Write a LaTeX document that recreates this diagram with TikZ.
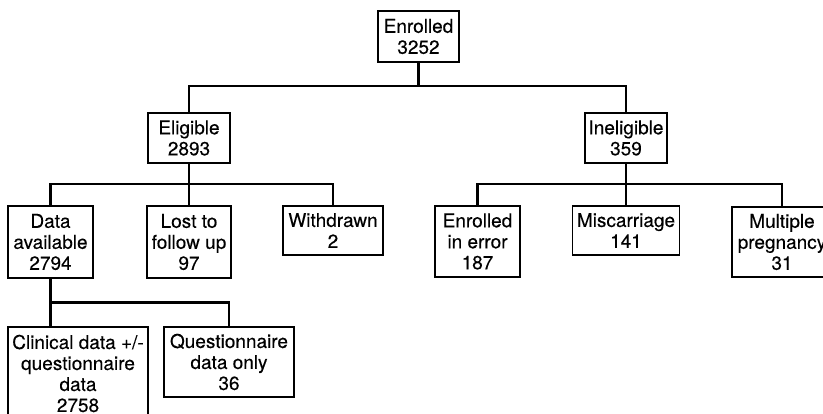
\documentclass[tikz,border=0pt]{standalone}
\usepackage{fontspec}
\setmainfont[FakeBold=0.3]{TeX Gyre Heros}
\usetikzlibrary{positioning}
\tikzset{
    stagebox/.style={draw, line width=1.6pt, align=center, inner sep=0pt,
        font=\fontsize{19}{21}\selectfont, minimum height=50},
    branch/.style={line width=2.8pt}
}

\begin{document}
\begin{tikzpicture}[x=1pt,y=-1pt]
    \clip (0,0) rectangle (823,414);
    % enrolled and eligibility
    \node[stagebox, minimum width=81, minimum height=51] (enrolled) at (418.5,36.5) {Enrolled\\3252};
    \node[stagebox, minimum width=82] (eligible) at (189,138) {Eligible\\2893};
    \node[stagebox, minimum width=82] (ineligible) at (626,138) {Ineligible\\359};
    % eligible branch
    \node[stagebox, minimum width=85, minimum height=72] (data) at (50.5,242) {Data\\available\\2794};
    \node[stagebox, minimum width=84, minimum height=72] (lost) at (189,242) {Lost to\\follow up\\97};
    \node[stagebox, minimum width=100, minimum height=49] (withdrawn) at (333,230.5) {Withdrawn\\2};
    % ineligible branch
    \node[stagebox, minimum width=85, minimum height=71] (error) at (477.5,241.5) {Enrolled\\in error\\187};
    \node[stagebox, minimum width=107, minimum height=49] (miscarriage) at (626,230.5) {Miscarriage\\141};
    \node[stagebox, minimum width=100, minimum height=70] (multiple) at (782,242) {Multiple\\pregnancy\\31};
    % data available
    \node[stagebox, minimum width=140, minimum height=93] (clinical) at (78,373.5) {Clinical data +/-\\questionnaire\\data\\2758};
    \node[stagebox, minimum width=130, minimum height=70] (questionnaire) at (229,362) {Questionnaire\\data only\\36};

    \coordinate (split1) at (418.5,86);
    \draw[branch] (enrolled.south) -- (split1);
    \draw[branch] (eligible.north) |- (split1) -| (ineligible.north);

    \coordinate (split2) at (189,184);
    \draw[branch] (eligible.south) -- (split2);
    \draw[branch] (data.north) |- (split2) -| (withdrawn.north);
    \draw[branch] (split2) -- (lost.north);

    \coordinate (split3) at (626,184);
    \draw[branch] (ineligible.south) -- (split3);
    \draw[branch] (error.north) |- (split3) -| (multiple.north);
    \draw[branch] (split3) -- (miscarriage.north);

    \draw[branch] (data.south) -- ++(0,24) coordinate (split4);
    \draw[branch] (split4) -| (questionnaire.north);
    \draw[branch] (split4) -- (split4 |- clinical.north);
\end{tikzpicture}
\end{document}
